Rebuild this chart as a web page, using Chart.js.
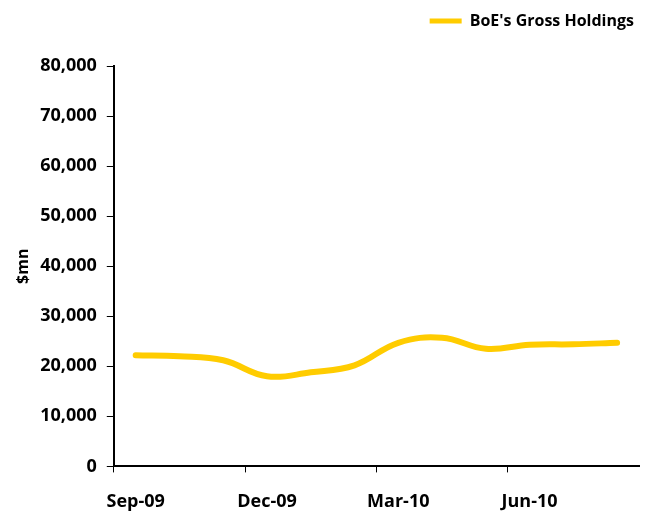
<!DOCTYPE html>
<html>
<head>
<meta charset="utf-8">
<script src="https://cdn.jsdelivr.net/npm/chart.js@4/dist/chart.umd.min.js"></script>
<style>
  html, body { margin: 0; padding: 0; background: #fff; }
  #wrap { width: 649px; height: 516px; }
</style>
</head>
<body>
<div id="wrap"><canvas id="boeChart"></canvas></div>
<script>
// Monthly categories, Sep-09 .. Aug-10
const months = ['Sep-09', 'Oct-09', 'Nov-09', 'Dec-09', 'Jan-10', 'Feb-10',
                'Mar-10', 'Apr-10', 'May-10', 'Jun-10', 'Jul-10', 'Aug-10'];
// BoE's gross holdings, $mn
const grossHoldings = [22200, 22000, 21200, 18000, 18800, 20200,
                       24700, 25700, 23500, 24300, 24400, 24700];
const yTicks = [0, 10000, 20000, 30000, 40000, 50000, 60000, 70000, 80000];

const FONT = "'Open Sans', sans-serif";
const YELLOW = '#FFCC00';

Chart.defaults.font.family = FONT;
Chart.defaults.color = '#000';

// push the plot down a bit below the legend
const legendGap = {
    id: 'legendGap',
    beforeInit(chart) {
        const fit = chart.legend.fit;
        chart.legend.fit = function() {
            fit.bind(chart.legend)();
            this.height += 27;
        };
    }
};

new Chart(document.getElementById('boeChart'), {
    type: 'line',
    data: {
        labels: months,
        datasets: [{
            label: "BoE's Gross Holdings",
            data: grossHoldings,
            borderColor: YELLOW,
            backgroundColor: YELLOW,
            borderWidth: 6,
            borderCapStyle: 'round',
            pointRadius: 0,
            tension: 0.4,
            fill: false
        }]
    },
    options: {
        responsive: true,
        maintainAspectRatio: false,
        animation: false,
        layout: { padding: { top: 8, right: 10, left: 14, bottom: -16 } },
        scales: {
            x: {
                offset: true,
                border: { display: true, color: '#000', width: 2 },
                grid: {
                    offset: true,
                    drawOnChartArea: false,
                    tickLength: 6,
                    color: ctx => (ctx.index % 3 === 0 ? '#000' : 'rgba(0,0,0,0)')
                },
                ticks: {
                    autoSkip: false,
                    maxRotation: 0,
                    padding: 19,
                    font: { size: 18, weight: 'bold' },
                    callback: function(value, index) {
                        return index % 3 === 0 ? this.getLabelForValue(value) : '';
                    }
                }
            },
            y: {
                min: 0,
                max: 80000,
                border: { display: true, color: '#000', width: 2 },
                grid: { drawOnChartArea: false, tickLength: 7, color: '#000' },
                afterBuildTicks: axis => { axis.ticks = yTicks.map(v => ({ value: v })); },
                ticks: {
                    padding: 10,
                    font: { size: 18, weight: 'bold' },
                    callback: v => v.toLocaleString('en-US')
                },
                title: {
                    display: true,
                    text: '$mn',
                    font: { size: 16, weight: 'bold' },
                    padding: { top: 0, bottom: -3 }
                }
            }
        },
        plugins: {
            legend: {
                position: 'top',
                align: 'end',
                labels: {
                    boxWidth: 32,
                    boxHeight: 0,
                    padding: 5,
                    font: { size: 16, weight: 'bold' },
                    generateLabels: chart => [{
                        text: "BoE's Gross Holdings",
                        strokeStyle: YELLOW,
                        fillStyle: YELLOW,
                        lineWidth: 5,
                        lineCap: 'round',
                        datasetIndex: 0
                    }]
                }
            },
            tooltip: { enabled: false }
        }
    },
    plugins: [legendGap]
});
</script>
</body>
</html>
